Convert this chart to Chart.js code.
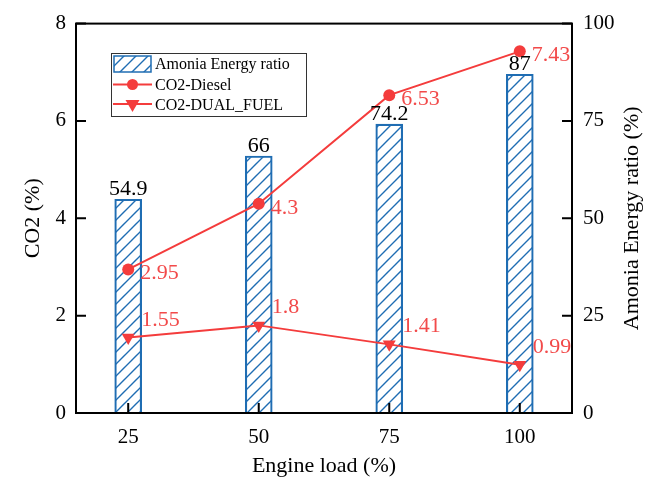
<!DOCTYPE html>
<html>
<head>
<meta charset="utf-8">
<script src="https://cdn.jsdelivr.net/npm/chart.js@4/dist/chart.umd.min.js"></script>
<style>
  html, body { margin: 0; padding: 0; background: #fff; }
  canvas { display: block; }
</style>
</head>
<body>
<canvas id="chart" width="646" height="490"></canvas>
<script>
// Engine load categories and measured series
const engineLoad   = [25, 50, 75, 100];
const ammoniaRatio = [54.9, 66, 74.2, 87];
const co2Diesel    = [2.95, 4.3, 6.53, 7.43];
const co2DualFuel  = [1.55, 1.8, 1.41, 0.99];

// Axis tick values
const co2Ticks   = [0, 2, 4, 6, 8];
const ratioTicks = [0, 25, 50, 75, 100];

const seriesNames = ['Amonia Energy ratio', 'CO2-Diesel', 'CO2-DUAL_FUEL'];
const axisTitles = { x: 'Engine load (%)', left: 'CO2 (%)', right: 'Amonia Energy ratio (%)' };

const FONT = '"Liberation Serif", "Times New Roman", serif';
const RED = '#f43c3c';
const RED_TEXT = '#f24a4a';
const BLUE = '#1f6db3';

const canvas = document.getElementById('chart');
const ctx = canvas.getContext('2d');

// Diagonal "/" hatch fill for the bars
function makeHatch(color) {
  const s = 12;
  const tile = document.createElement('canvas');
  tile.width = s; tile.height = s;
  const g = tile.getContext('2d');
  g.strokeStyle = color;
  g.lineWidth = 1.4;
  g.beginPath();
  g.moveTo(-2, s + 2); g.lineTo(s + 2, -2);
  g.moveTo(-2, 2); g.lineTo(2, -2);
  g.moveTo(s - 2, s + 2); g.lineTo(s + 2, s - 2);
  g.stroke();
  return ctx.createPattern(tile, 'repeat');
}
const hatch = makeHatch(BLUE);

const toPoints = vals => engineLoad.map((x, i) => ({ x, y: vals[i] }));

// Value labels next to the marks
const valueLabels = {
  id: 'valueLabels',
  afterDatasetsDraw(chart) {
    const c = chart.ctx;
    c.save();
    c.font = '22px ' + FONT;
    c.textBaseline = 'alphabetic';
    // bar labels, centred above each bar
    chart.getDatasetMeta(0).data.forEach((bar, i) => {
      c.fillStyle = '#000';
      c.textAlign = 'center';
      c.fillText(String(ammoniaRatio[i]), bar.x, bar.y - 4);
    });
    c.fillStyle = RED_TEXT;
    c.textAlign = 'left';
    chart.getDatasetMeta(1).data.forEach((pt, i) => {
      c.fillText(String(co2Diesel[i]), pt.x + 12, pt.y + 10);
    });
    chart.getDatasetMeta(2).data.forEach((pt, i) => {
      c.fillText(String(co2DualFuel[i]), pt.x + 13, pt.y - 12);
    });
    c.restore();
  }
};

// Closed frame with inward tick marks, right-axis title and the inset legend
const frameAndLegend = {
  id: 'frameAndLegend',
  afterDraw(chart) {
    const c = chart.ctx;
    const a = chart.chartArea;
    const sx = chart.scales.x, sy = chart.scales.y, sr = chart.scales.yR;
    c.save();
    c.strokeStyle = '#000';
    c.lineWidth = 2;
    c.strokeRect(a.left, a.top, a.right - a.left, a.bottom - a.top);
    const TL = 10;
    c.beginPath();
    engineLoad.forEach(v => {
      const px = sx.getPixelForValue(v);
      c.moveTo(px, a.bottom); c.lineTo(px, a.bottom - TL);
    });
    co2Ticks.forEach(v => {
      const py = sy.getPixelForValue(v);
      c.moveTo(a.left, py); c.lineTo(a.left + TL, py);
    });
    ratioTicks.forEach(v => {
      const py = sr.getPixelForValue(v);
      c.moveTo(a.right, py); c.lineTo(a.right - TL, py);
    });
    c.stroke();

    // right axis title, reading bottom to top
    c.save();
    c.translate(632, (a.top + a.bottom) / 2);
    c.rotate(-Math.PI / 2);
    c.font = '22px ' + FONT;
    c.fillStyle = '#000';
    c.textAlign = 'center';
    c.textBaseline = 'middle';
    c.fillText(axisTitles.right, 0, 0);
    c.restore();

    // legend box
    const L = { x: 111, y: 53, w: 195, h: 63 };
    c.fillStyle = '#fff';
    c.fillRect(L.x, L.y, L.w, L.h);
    c.strokeStyle = '#333';
    c.lineWidth = 1;
    c.strokeRect(L.x + 0.5, L.y + 0.5, L.w, L.h);

    // bar swatch
    c.fillStyle = hatch;
    c.fillRect(114, 56, 37, 16);
    c.strokeStyle = BLUE;
    c.lineWidth = 1.5;
    c.strokeRect(114, 56, 37, 16);

    // line swatches
    c.strokeStyle = RED;
    c.fillStyle = RED;
    c.lineWidth = 2;
    c.beginPath(); c.moveTo(113, 84.5); c.lineTo(152, 84.5); c.stroke();
    c.beginPath(); c.arc(132.5, 84.5, 5.5, 0, Math.PI * 2); c.fill();
    c.beginPath(); c.moveTo(113, 104); c.lineTo(152, 104); c.stroke();
    c.beginPath(); c.moveTo(125.5, 100); c.lineTo(139.5, 100); c.lineTo(132.5, 112); c.closePath(); c.fill();

    c.fillStyle = '#000';
    c.font = '16px ' + FONT;
    c.textAlign = 'left';
    c.textBaseline = 'alphabetic';
    c.fillText(seriesNames[0], 155, 68.5);
    c.fillText(seriesNames[1], 155, 90);
    c.fillText(seriesNames[2], 155, 110);
    c.restore();
  }
};

const tickFont = { family: FONT, size: 21 };

new Chart(ctx, {
  type: 'bar',
  data: {
    datasets: [
      {
        type: 'bar',
        label: seriesNames[0],
        data: toPoints(ammoniaRatio),
        yAxisID: 'yR',
        backgroundColor: hatch,
        borderColor: BLUE,
        borderWidth: 1.5,
        barThickness: 27,
        order: 2
      },
      {
        type: 'line',
        label: seriesNames[1],
        data: toPoints(co2Diesel),
        yAxisID: 'y',
        borderColor: RED,
        backgroundColor: RED,
        borderWidth: 2,
        pointStyle: 'circle',
        pointRadius: 6,
        pointBorderWidth: 0,
        order: 1
      },
      {
        type: 'line',
        label: seriesNames[2],
        data: toPoints(co2DualFuel),
        yAxisID: 'y',
        borderColor: RED,
        backgroundColor: RED,
        borderWidth: 2,
        pointStyle: 'triangle',
        pointRotation: 180,
        pointRadius: 7.5,
        pointBorderWidth: 0,
        order: 1
      }
    ]
  },
  options: {
    responsive: false,
    animation: false,
    layout: { padding: { top: 19, left: 0, right: 0, bottom: 0 } },
    plugins: { legend: { display: false }, tooltip: { enabled: false } },
    scales: {
      x: {
        type: 'linear',
        offset: false,
        min: 15,
        max: 110,
        grid: { display: false, drawTicks: false, offset: false },
        border: { display: false },
        afterBuildTicks: s => { s.ticks = engineLoad.map(v => ({ value: v })); },
        ticks: { color: '#000', font: tickFont, padding: 12, maxRotation: 0, autoSkip: false, callback: v => String(v) },
        title: { display: true, text: axisTitles.x, color: '#000', font: { family: FONT, size: 22 }, padding: { top: 0, bottom: 11 } },
        afterFit: s => { s.height = 77; }
      },
      y: {
        position: 'left',
        min: 0,
        max: 8,
        grid: { display: false, drawTicks: false },
        border: { display: false },
        afterBuildTicks: s => { s.ticks = co2Ticks.map(v => ({ value: v })); },
        ticks: { color: '#000', font: tickFont, padding: 10, callback: v => String(v) },
        title: { display: true, text: axisTitles.left, color: '#000', font: { family: FONT, size: 22 }, padding: { top: 20, bottom: 0 } },
        afterFit: s => { s.width = 76; }
      },
      yR: {
        position: 'right',
        min: 0,
        max: 100,
        grid: { display: false, drawTicks: false },
        border: { display: false },
        afterBuildTicks: s => { s.ticks = ratioTicks.map(v => ({ value: v })); },
        ticks: { color: '#000', font: tickFont, padding: 11, callback: v => String(v) },
        afterFit: s => { s.width = 74; }
      }
    }
  },
  plugins: [valueLabels, frameAndLegend]
});
</script>
</body>
</html>
